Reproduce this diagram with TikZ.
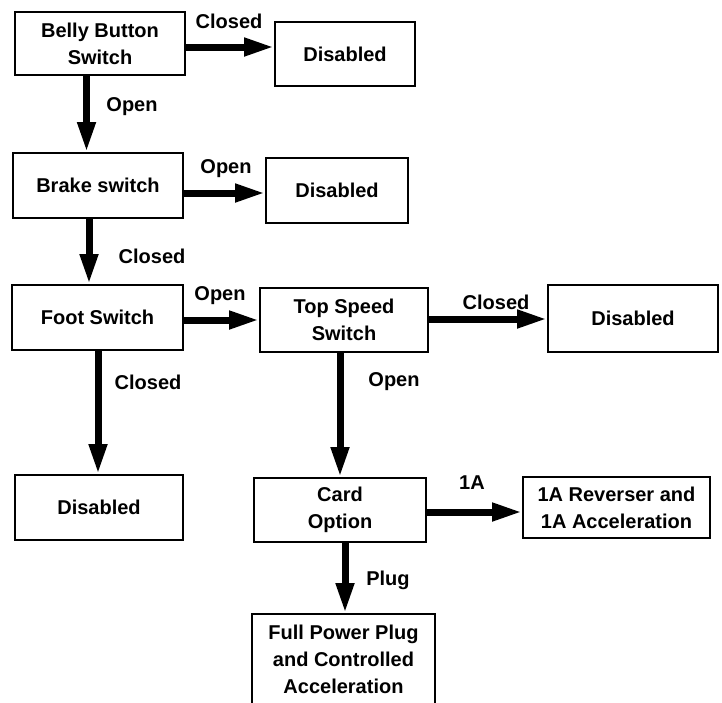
\documentclass[tikz,border=0pt]{standalone}
\usepackage{fontspec}
\setmainfont{Liberation Sans}
\usetikzlibrary{arrows.meta}

\begin{document}
\begin{tikzpicture}[x=1pt, y=-1pt, font=\fontsize{20}{27}\selectfont\bfseries,
		box/.style={draw, line width=1.8pt, align=center, inner sep=0pt},
		arr/.style={line width=7pt, -{Triangle[length=30pt, width=17pt]}}]
			\useasboundingbox (0,0) rectangle (722,702);
			\node[box, minimum width=170, minimum height=63] (1) at (100,43.5) {Belly Button\\Switch};
			\node[box, minimum width=140, minimum height=64] (2) at (345,54) {Disabled};
			\node[box, minimum width=170, minimum height=65] (3) at (98,185.5) {Brake switch};
			\node[box, minimum width=142, minimum height=65] (4) at (337,190.5) {Disabled};
			\node[box, minimum width=171, minimum height=65] (5) at (97.5,317.5) {Foot Switch};
			\node[box, minimum width=168, minimum height=64] (6) at (344,320) {Top Speed\\Switch};
			\node[box, minimum width=170, minimum height=67] (7) at (633,318.5) {Disabled};
			\node[box, minimum width=168, minimum height=65] (8) at (99,507.5) {Disabled};
			\node[box, minimum width=172, minimum height=64] (9) at (340,510) {Card\\Option};
			\node[box, minimum width=187, minimum height=61] (10) at (616.5,507.5) {1A Reverser and\\1A Acceleration};
			\node[box, minimum width=183, minimum height=90] (11) at (343.5,659) {Full Power Plug\\and Controlled\\Acceleration};
			\draw[arr] ([yshift=-3.5pt]1.east) -- ([yshift=7pt]2.west);
			\draw[arr] ([xshift=-13.5pt]1.south) -- ([xshift=-11.5pt]3.north);
			\draw[arr] ([yshift=-7.5pt]3.east) -- ([yshift=-2.5pt]4.west);
			\draw[arr] ([xshift=-9pt]3.south) -- ([xshift=-8.5pt]5.north);
			\draw[arr] ([yshift=-2.5pt]5.east) -- (6.west);
			\draw[arr] ([yshift=1pt]6.east) -- ([yshift=-0.5pt]7.west);
			\draw[arr] ([xshift=0.5pt]5.south) -- ([xshift=-1pt]8.north);
			\draw[arr] ([xshift=-4pt]6.south) -- (9.north);
			\draw[arr] ([yshift=-2pt]9.east) -- ([yshift=-4.5pt]10.west);
			\draw[arr] ([xshift=5pt]9.south) -- ([xshift=1.5pt]11.north);
			\node (l1) at (229,21) {Closed};
			\node (l2) at (132,107) {Open};
			\node (l3) at (226,169) {Open};
			\node (l4) at (152,256) {Closed};
			\node (l5) at (220,296) {Open};
			\node (l6) at (496,302) {Closed};
			\node (l7) at (148,382) {Closed};
			\node (l8) at (394,382) {Open};
			\node (l9) at (472,483) {1A};
			\node (l10) at (388,580) {Plug};
		\end{tikzpicture}
\end{document}
